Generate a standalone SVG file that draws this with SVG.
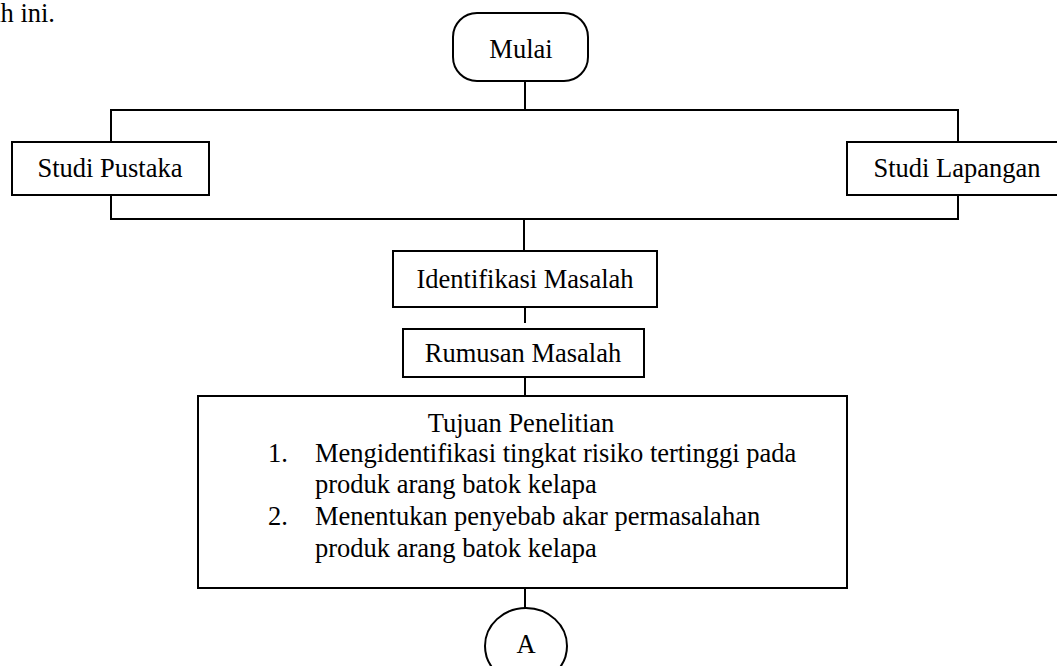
<svg xmlns="http://www.w3.org/2000/svg" width="1057" height="666" viewBox="0 0 1057 666">
<style>
  .box { fill: #fff; stroke: #000; stroke-width: 2; }
  .ln { fill: none; stroke: #000; stroke-width: 2; }
  text { font-family: "Liberation Serif", "Times New Roman", serif; font-size: 26.5px; fill: #000; }
  .c { text-anchor: middle; }
</style>
<rect width="1057" height="666" fill="#fff"/>
<text x="55" y="22" text-anchor="end">ah ini.</text>
<g id="connectors">
  <line class="ln" x1="525" y1="81" x2="525" y2="110"/>
  <polyline class="ln" points="111,142 111,110 958,110 958,142"/>
  <polyline class="ln" points="111,195 111,219 958,219 958,195"/>
  <line class="ln" x1="524" y1="219" x2="524" y2="251"/>
  <line class="ln" x1="525" y1="307" x2="525" y2="323"/>
  <line class="ln" x1="525" y1="377" x2="525" y2="396"/>
  <line class="ln" x1="525" y1="588" x2="525" y2="608"/>
</g>
<g id="mulai">
  <rect class="box" x="453" y="13" width="135" height="68" rx="24" ry="24"/>
  <text class="c" x="521" y="58">Mulai</text>
</g>
<g id="studi-pustaka">
  <rect class="box" x="12" y="142" width="197" height="53"/>
  <text class="c" x="110" y="177">Studi Pustaka</text>
</g>
<g id="studi-lapangan">
  <rect class="box" x="847" y="142" width="222" height="53"/>
  <text class="c" x="957" y="177">Studi Lapangan</text>
</g>
<g id="identifikasi">
  <rect class="box" x="393" y="251" width="264" height="56"/>
  <text class="c" x="525" y="288">Identifikasi Masalah</text>
</g>
<g id="rumusan">
  <rect class="box" x="403" y="329" width="241" height="48"/>
  <text class="c" x="523" y="362">Rumusan Masalah</text>
</g>
<g id="tujuan">
  <rect class="box" x="198" y="396" width="649" height="192"/>
  <text class="c" x="521" y="432">Tujuan Penelitian</text>
  <text x="268" y="462">1.</text>
  <text x="315" y="462">Mengidentifikasi tingkat risiko tertinggi pada</text>
  <text x="315" y="493">produk arang batok kelapa</text>
  <text x="268" y="525">2.</text>
  <text x="315" y="525">Menentukan penyebab akar permasalahan</text>
  <text x="315" y="557">produk arang batok kelapa</text>
</g>
<g id="connector-a">
  <ellipse class="box" cx="526" cy="646" rx="41" ry="38"/>
  <text class="c" x="526" y="653">A</text>
</g>
</svg>
